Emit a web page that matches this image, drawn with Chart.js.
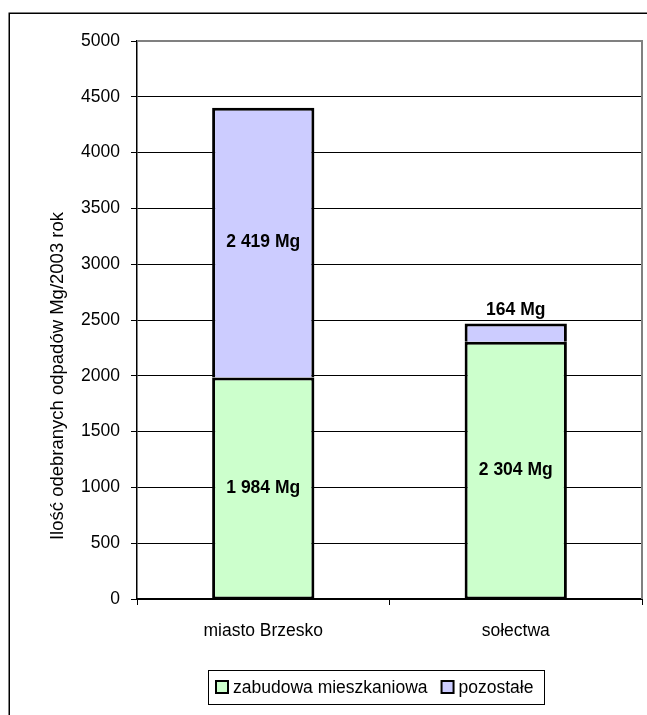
<!DOCTYPE html>
<html>
<head>
<meta charset="utf-8">
<script src="https://cdn.jsdelivr.net/npm/chart.js@4/dist/chart.umd.min.js"></script>
<style>
  html, body { margin: 0; padding: 0; background: #fff; }
  canvas { display: block; }
</style>
</head>
<body>
<canvas id="c" width="647" height="715"></canvas>
<script>
// Odpady odebrane w 2003 roku [Mg]
const categories = ['miasto Brzesko', 'sołectwa'];
const seriesNames = ['zabudowa mieszkaniowa', 'pozostałe'];
const residential = [1984, 2304];
const other = [2419, 164];
const yTicks = [0, 500, 1000, 1500, 2000, 2500, 3000, 3500, 4000, 4500, 5000];
const yTitle = 'Ilość odebranych odpadów Mg/2003 rok';

const FONT = "'Liberation Sans', Arial, sans-serif";
const GREEN = '#CCFFCC';
const LILAC = '#CCCCFF';

function fmt(v) {
  return String(v).replace(/\B(?=(\d{3})+(?!\d))/g, ' ') + ' Mg';
}

// Outer frame, plot-area border, vertical axis title
const framePlugin = {
  id: 'frame',
  beforeDraw(chart) {
    const ctx = chart.ctx;
    ctx.save();
    ctx.fillStyle = '#fff';
    ctx.fillRect(0, 0, chart.width, chart.height);
    ctx.strokeStyle = '#000';
    ctx.lineWidth = 1.5;
    ctx.strokeRect(9.25, 13.25, chart.width + 20, chart.height + 20);
    ctx.translate(58, 376);
    ctx.rotate(-Math.PI / 2);
    ctx.font = '18.5px ' + FONT;
    ctx.fillStyle = '#000';
    ctx.textAlign = 'center';
    ctx.textBaseline = 'middle';
    ctx.fillText(yTitle, 0, 0);
    ctx.restore();
  },
  afterDatasetsDraw(chart) {
    const {ctx, chartArea: a} = chart;
    ctx.save();
    ctx.strokeStyle = '#808080';
    ctx.lineWidth = 2;
    ctx.beginPath();
    ctx.moveTo(a.left, a.top);
    ctx.lineTo(a.right, a.top);
    ctx.lineTo(a.right, a.bottom);
    ctx.stroke();
    ctx.restore();
  }
};

// Value labels on the bar segments
const labelPlugin = {
  id: 'segLabels',
  afterDatasetsDraw(chart) {
    const ctx = chart.ctx;
    ctx.save();
    ctx.font = 'bold 17.5px ' + FONT;
    ctx.fillStyle = '#000';
    ctx.textAlign = 'center';
    chart.data.datasets.forEach((ds, di) => {
      const meta = chart.getDatasetMeta(di);
      meta.data.forEach((bar, i) => {
        const {x, y, base} = bar.getProps(['x', 'y', 'base'], true);
        const h = Math.abs(base - y);
        const text = fmt(ds.data[i]);
        if (h < 30) {
          ctx.textBaseline = 'bottom';
          ctx.fillText(text, x, Math.min(y, base) - 5);
        } else {
          ctx.textBaseline = 'middle';
          ctx.fillText(text, x, (y + base) / 2);
        }
      });
    });
    ctx.restore();
  }
};

// Framed legend below the axis
const legendPlugin = {
  id: 'boxLegend',
  afterDraw(chart) {
    const ctx = chart.ctx;
    const ds = chart.data.datasets;
    ctx.save();
    ctx.font = '17.5px ' + FONT;
    const sw = 12, gap = 5, between = 14, padL = 8, padR = 11;
    const widths = ds.map(d => ctx.measureText(d.label).width);
    let total = padL + padR;
    widths.forEach((w, i) => { total += sw + gap + w + (i ? between : 0); });
    const cx = 376, cy = 687, boxH = 34;
    const left = Math.round(cx - total / 2);
    ctx.strokeStyle = '#000';
    ctx.lineWidth = 1;
    ctx.strokeRect(left + 0.5, cy - boxH / 2 + 0.5, Math.round(total), boxH);
    let x = left + padL;
    ds.forEach((d, i) => {
      ctx.fillStyle = d.backgroundColor;
      ctx.fillRect(x, cy - sw / 2, sw, sw);
      ctx.lineWidth = 2;
      ctx.strokeRect(x, cy - sw / 2, sw, sw);
      ctx.fillStyle = '#000';
      ctx.textAlign = 'left';
      ctx.textBaseline = 'middle';
      ctx.fillText(d.label, x + sw + gap, cy + 1);
      x += sw + gap + widths[i] + between;
    });
    ctx.restore();
  }
};

new Chart(document.getElementById('c'), {
  type: 'bar',
  data: {
    labels: categories,
    datasets: [
      {
        label: seriesNames[0],
        data: residential,
        backgroundColor: GREEN,
        borderColor: '#000',
        borderWidth: {top: 3, left: 3, right: 3, bottom: 2},
        borderSkipped: false,
        inflateAmount: 0
      },
      {
        label: seriesNames[1],
        data: other,
        backgroundColor: LILAC,
        borderColor: '#000',
        borderWidth: {top: 3, left: 3, right: 3, bottom: 0},
        borderSkipped: false,
        inflateAmount: 0
      }
    ]
  },
  options: {
    responsive: false,
    animation: false,
    events: [],
    barPercentage: 0.405,
    categoryPercentage: 1,
    layout: { padding: { top: 41, right: 5, left: 0, bottom: 76 } },
    plugins: {
      legend: { display: false },
      tooltip: { enabled: false }
    },
    scales: {
      x: {
        stacked: true,
        afterFit(s) { s.height = 40; },
        grid: {
          offset: true,
          drawOnChartArea: false,
          color: '#000',
          tickLength: 6,
          lineWidth: 1
        },
        border: { color: '#000', width: 2 },
        ticks: {
          color: '#000',
          padding: 16,
          font: { family: FONT, size: 17.5 }
        }
      },
      y: {
        stacked: true,
        min: 0,
        max: 5000,
        afterFit(s) { s.width = 137; },
        afterBuildTicks(s) { s.ticks = yTicks.map(v => ({value: v})); },
        grid: {
          color: '#000',
          lineWidth: 1,
          tickLength: 6
        },
        border: { color: '#000', width: 1.5 },
        ticks: {
          color: '#000',
          padding: 11,
          callback: v => String(v),
          font: { family: FONT, size: 17.5 }
        }
      }
    }
  },
  plugins: [framePlugin, labelPlugin, legendPlugin]
});
</script>
</body>
</html>
